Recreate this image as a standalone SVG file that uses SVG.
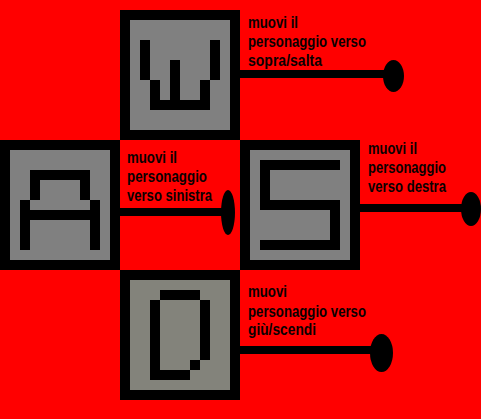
<svg xmlns="http://www.w3.org/2000/svg" width="481" height="419" viewBox="0 0 481 419">
<style>
.frame{fill:#000}
.face{fill:#808080}
.faceD{fill:#83837b}
.glyph{fill:#000}
.lbl{font-family:"Liberation Sans Narrow","Liberation Sans",Arial,sans-serif;font-weight:bold;font-size:16px;fill:#0a0000}
.wire{fill:#000}
.end{fill:#000}
</style>
<rect x="0" y="0" width="481" height="419" fill="#ff0000"/>

<g id="key-w">
<rect class="frame" x="120" y="10" width="120" height="130"/>
<rect class="face" x="130" y="20" width="100" height="110"/>
<g class="glyph">
<rect x="140" y="40" width="10" height="40"/>
<rect x="150" y="80" width="10" height="30"/>
<rect x="150" y="100" width="60" height="10"/>
<rect x="170" y="60" width="10" height="40"/>
<rect x="200" y="80" width="10" height="30"/>
<rect x="210" y="40" width="10" height="40"/>
</g>
<text class="lbl" x="248" y="27.5" textLength="50" lengthAdjust="spacingAndGlyphs">muovi il</text>
<text class="lbl" x="248" y="47" textLength="118" lengthAdjust="spacingAndGlyphs">personaggio verso</text>
<text class="lbl" x="248" y="66" textLength="74" lengthAdjust="spacingAndGlyphs">sopra/salta</text>
</g>

<g id="key-a">
<rect class="frame" x="0" y="140" width="120" height="130"/>
<rect class="face" x="10" y="150" width="100" height="110"/>
<g class="glyph">
<rect x="30" y="170" width="60" height="10"/>
<rect x="30" y="170" width="10" height="30"/>
<rect x="80" y="170" width="10" height="30"/>
<rect x="20" y="200" width="10" height="50"/>
<rect x="90" y="200" width="10" height="50"/>
<rect x="20" y="210" width="80" height="10"/>
</g>
<text class="lbl" x="127" y="163" textLength="50" lengthAdjust="spacingAndGlyphs">muovi il</text>
<text class="lbl" x="127" y="182" textLength="80" lengthAdjust="spacingAndGlyphs">personaggio</text>
<text class="lbl" x="127" y="201" textLength="85" lengthAdjust="spacingAndGlyphs">verso sinistra</text>
</g>

<g id="key-s">
<rect class="frame" x="240" y="140" width="120" height="130"/>
<rect class="face" x="250" y="150" width="100" height="110"/>
<g class="glyph">
<rect x="260" y="160" width="80" height="10"/>
<rect x="260" y="160" width="10" height="50"/>
<rect x="260" y="200" width="80" height="10"/>
<rect x="330" y="200" width="10" height="50"/>
<rect x="260" y="240" width="80" height="10"/>
</g>
<text class="lbl" x="368" y="154" textLength="49" lengthAdjust="spacingAndGlyphs">muovi il</text>
<text class="lbl" x="368" y="173" textLength="78" lengthAdjust="spacingAndGlyphs">personaggio</text>
<text class="lbl" x="368" y="192" textLength="78" lengthAdjust="spacingAndGlyphs">verso destra</text>
</g>

<g id="key-d">
<rect class="frame" x="120" y="270" width="120" height="130"/>
<rect class="faceD" x="130" y="280" width="100" height="110"/>
<g class="glyph">
<rect x="160" y="290" width="40" height="10"/>
<rect x="150" y="300" width="10" height="80"/>
<rect x="150" y="370" width="40" height="10"/>
<rect x="200" y="300" width="10" height="60"/>
<rect x="190" y="360" width="10" height="10"/>
</g>
<text class="lbl" x="248" y="297" textLength="39" lengthAdjust="spacingAndGlyphs">muovi</text>
<text class="lbl" x="248" y="317" textLength="118" lengthAdjust="spacingAndGlyphs">personaggio verso</text>
<text class="lbl" x="248" y="335" textLength="68" lengthAdjust="spacingAndGlyphs">giù/scendi</text>
</g>

<g id="connectors">
<rect class="wire" x="240" y="70" width="154" height="8"/>
<ellipse class="end" cx="393.5" cy="76" rx="10.5" ry="16"/>
<rect class="wire" x="120" y="208" width="108" height="8"/>
<ellipse class="end" cx="228" cy="212.5" rx="7" ry="22.5"/>
<rect class="wire" x="360" y="204" width="111" height="8"/>
<ellipse class="end" cx="471" cy="209" rx="10" ry="17"/>
<rect class="wire" x="240" y="346" width="142" height="8"/>
<ellipse class="end" cx="381.5" cy="353" rx="11.5" ry="19"/>
</g>
</svg>
